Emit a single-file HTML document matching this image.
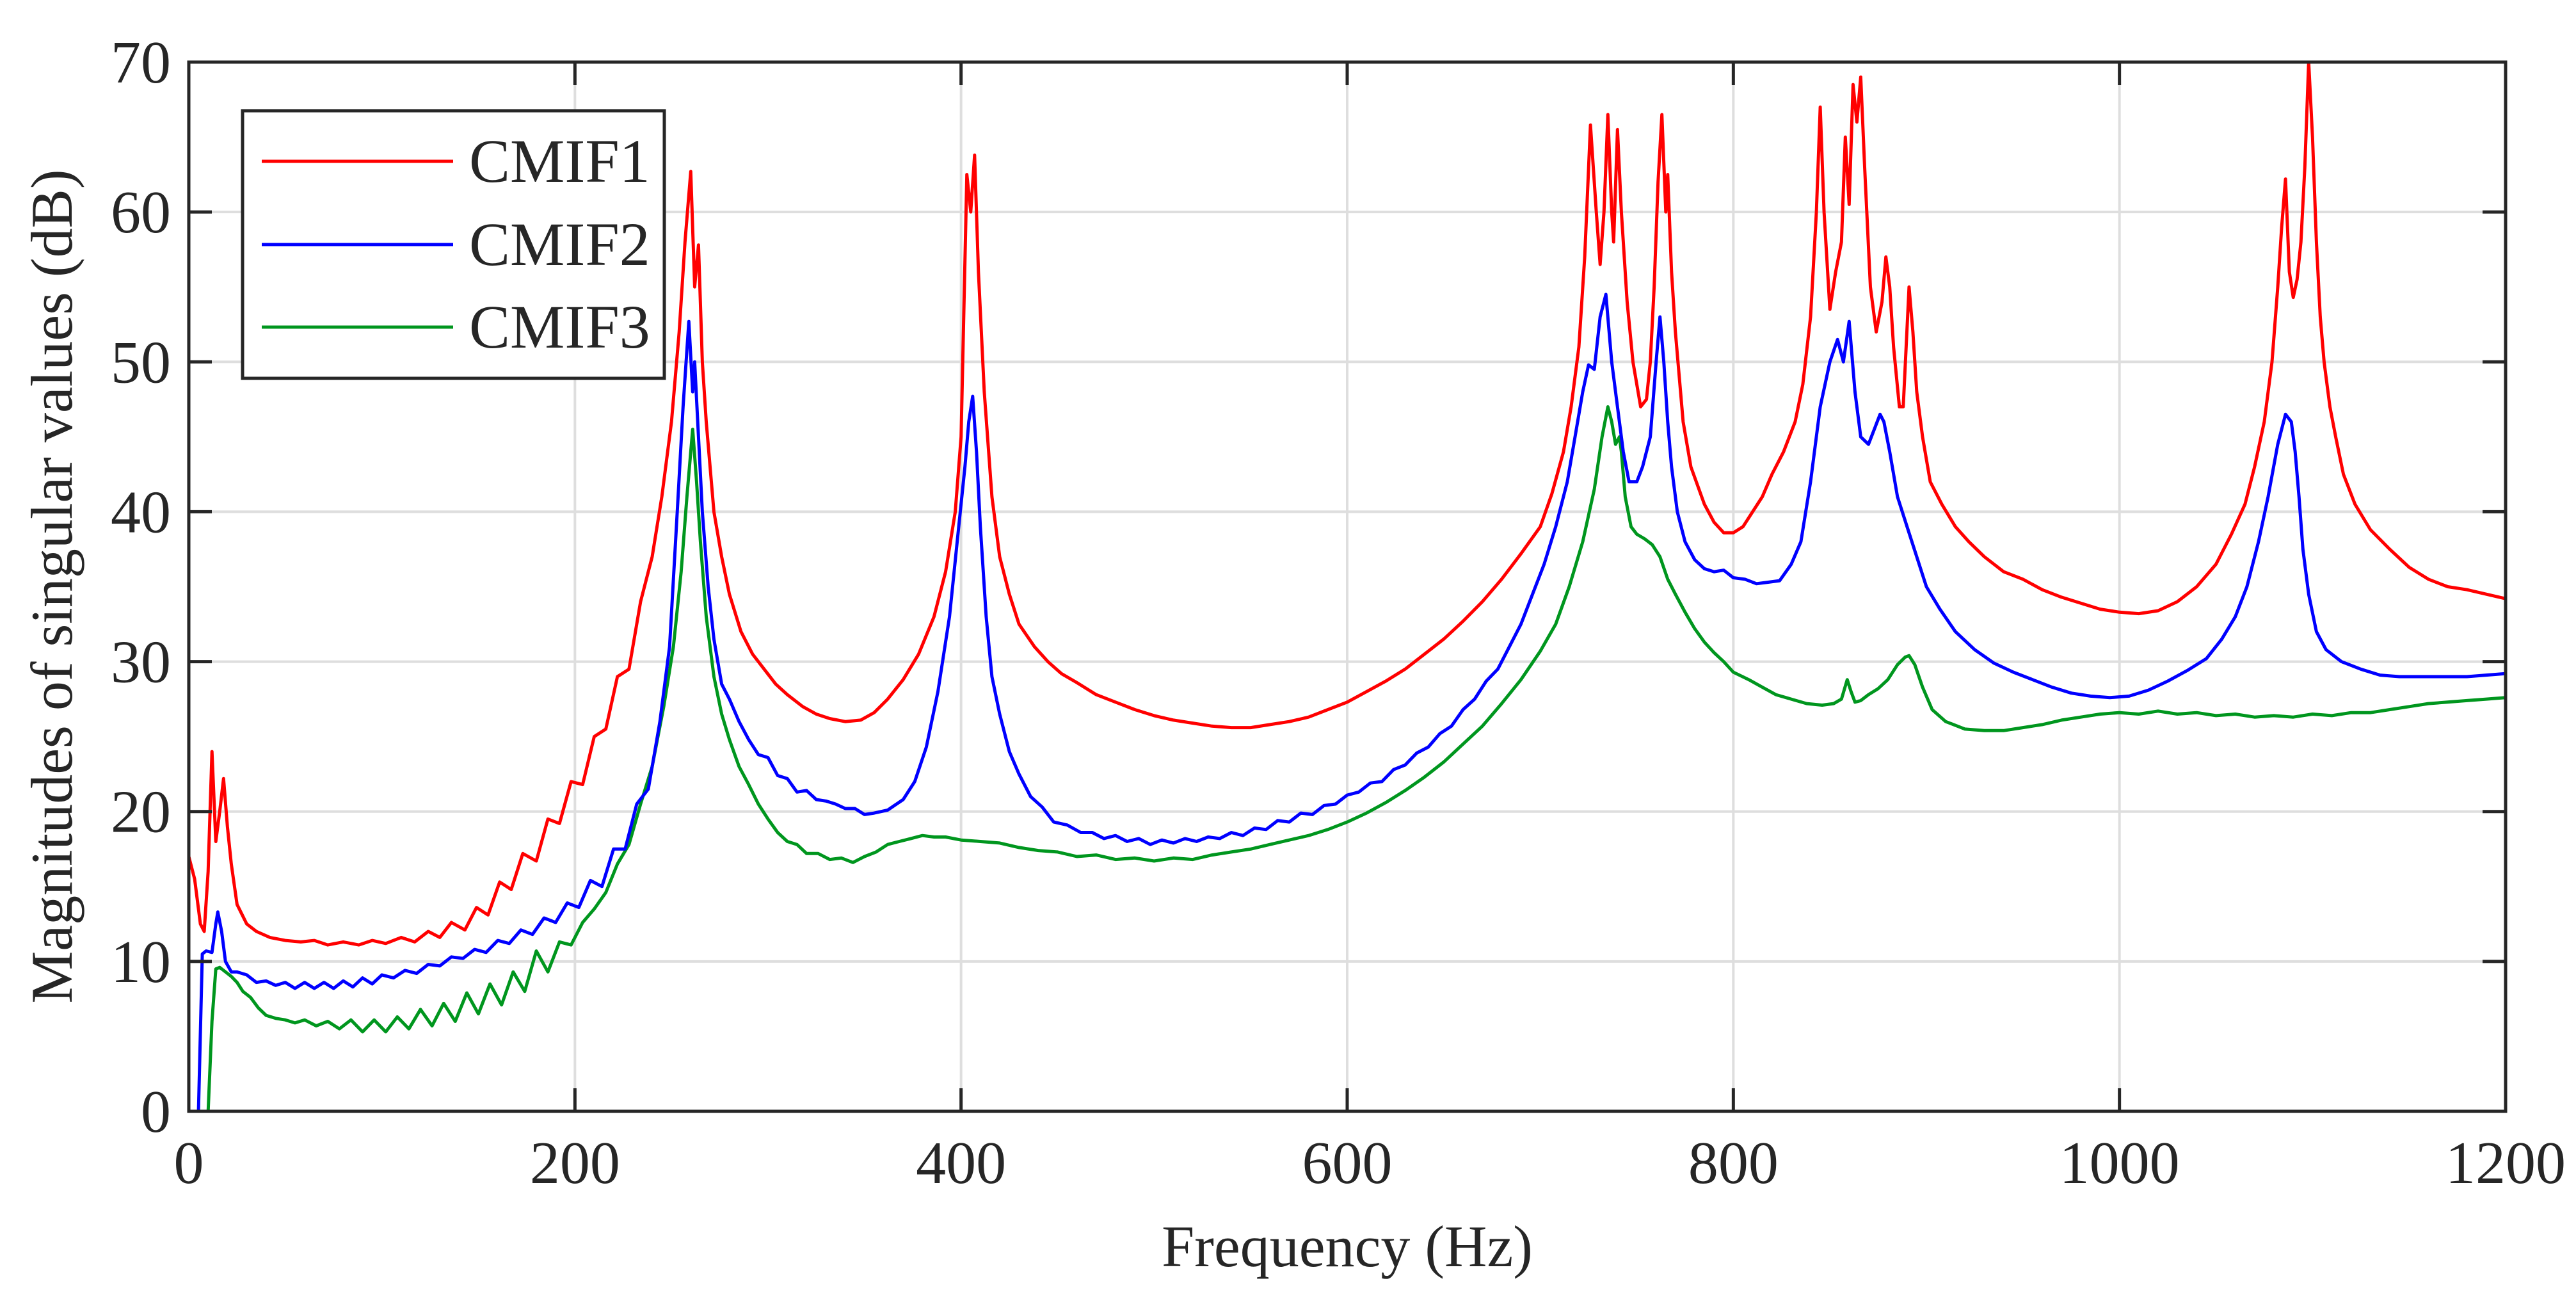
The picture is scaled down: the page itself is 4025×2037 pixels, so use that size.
<!DOCTYPE html>
<html><head><meta charset="utf-8">
<style>
html,body{margin:0;padding:0;background:#fff;}
svg{display:block;}
text{font-family:"Liberation Serif",serif;fill:#262626;}
</style></head>
<body>
<svg id="chart" width="4025" height="2037" viewBox="0 0 4025 2037" xmlns="http://www.w3.org/2000/svg">
<defs><clipPath id="plotclip"><rect x="295" y="97" width="3620" height="1639"/></clipPath></defs>
<rect x="0" y="0" width="4025" height="2037" fill="#fff"/>
<g id="grid"></g>
<g id="series" clip-path="url(#plotclip)"></g>
<rect x="295" y="97" width="3620" height="1639" fill="none" stroke="#262626" stroke-width="5"/>
<g id="ticks"></g>
<text x="2105" y="1978" font-size="92" text-anchor="middle">Frequency (Hz)</text>
<text transform="translate(112,916) rotate(-90)" font-size="92" text-anchor="middle">Magnitudes of singular values (dB)</text>
<g>
<rect x="379" y="173" width="659" height="418" fill="#fff" stroke="#262626" stroke-width="5"/>
<line x1="409" y1="252" x2="708" y2="252" stroke="#ff0000" stroke-width="5"/>
<text x="733" y="284" font-size="96">CMIF1</text>
<line x1="409" y1="382" x2="708" y2="382" stroke="#0000ff" stroke-width="5"/>
<text x="733" y="414" font-size="96">CMIF2</text>
<line x1="409" y1="511" x2="708" y2="511" stroke="#00961e" stroke-width="5"/>
<text x="733" y="543" font-size="96">CMIF3</text>
</g>
</svg>
<script>
const xTicks = [0,200,400,600,800,1000,1200];
const yTicks = [0,10,20,30,40,50,60,70];
const cmif1F = [0,3,6,8,10,12,14,16,18,20,
22,25,30,35,42,50,58,65,72,80,
88,95,102,110,117,124,130,136,143,149,
155,161,167,173,180,186,192,198,204,210,
216,222,228,234,240,245,250,254,257,260,
262,264,266,268,272,276,280,286,292,298,
304,310,318,325,332,340,348,355,362,370,
378,386,392,397,400,403,405,407,409,412,
416,420,425,430,438,445,452,460,470,480,
490,500,510,520,530,540,550,560,570,580,
590,600,610,620,630,640,650,660,670,680,
690,700,706,712,716,720,723,726,729,731,
733,735,737,738,740,742,745,748,752,755,
757,759,761,763,765,766,768,770,774,778,
785,790,795,800,805,810,815,820,826,832,
836,840,843,845,847,850,853,856,858,860,
862,864,866,868,871,874,877,879,881,883,
886,888,891,893,895,898,902,908,915,922,
930,940,950,960,970,980,990,1000,1010,1020,
1030,1040,1050,1058,1065,1070,1075,1079,1082,1084,
1086,1088,1090,1092,1094,1096,1098,1100,1102,1104,
1106,1109,1112,1116,1122,1130,1140,1150,1160,1170,
1180,1190,1200];
const cmif1V = [17,15.5,12.5,12,16,24,18,20,22.2,19,
16.5,13.8,12.5,12,11.6,11.4,11.3,11.4,11.1,11.3,
11.1,11.4,11.2,11.6,11.3,12,11.6,12.6,12.1,13.6,
13.1,15.3,14.8,17.2,16.7,19.5,19.2,22,21.8,25,
25.5,29,29.5,34,37,41,46,52,58,62.7,
55,57.8,50,46,40,37,34.5,32,30.5,29.5,
28.5,27.8,27,26.5,26.2,26,26.1,26.6,27.5,28.8,
30.5,33,36,40,45,62.5,60,63.8,56,48,
41,37,34.5,32.5,31,30,29.2,28.6,27.8,27.3,
26.8,26.4,26.1,25.9,25.7,25.6,25.6,25.8,26,26.3,
26.8,27.3,28,28.7,29.5,30.5,31.5,32.7,34,35.5,
37.2,39,41.2,44,47,51,57,65.8,60,56.5,
60,66.5,60,58,65.5,60,54,50,47,47.5,
50,55,62,66.5,60,62.5,56,52,46,43,
40.5,39.3,38.6,38.6,39,40,41,42.5,44,46,
48.5,53,60,67,60,53.5,56,58,65,60.5,
68.5,66,69,63,55,52,54,57,55,51,
47,47,55,52,48,45,42,40.5,39,38,
37,36,35.5,34.8,34.3,33.9,33.5,33.3,33.2,33.4,
34,35,36.5,38.5,40.5,43,46,50,55,59,
62.2,56,54.3,55.5,58,63,70,65,58,53,
50,47,45,42.5,40.5,38.8,37.5,36.3,35.5,35,
34.8,34.5,34.2];
const cmif2F = [0,3,5,7,9,12,14,15,17,19,
22,25,30,35,40,45,50,55,60,65,
70,75,80,85,90,95,100,106,112,118,
124,130,136,142,148,154,160,166,172,178,
184,190,196,202,208,214,220,226,232,238,
244,249,253,256,259,261,262,264,266,269,
272,276,280,285,290,295,300,305,310,315,
320,325,330,335,340,345,350,355,362,370,
376,382,388,394,398,402,404,406,408,410,
413,416,420,425,430,436,442,448,455,462,
468,474,480,486,492,498,504,510,516,522,
528,534,540,546,552,558,564,570,576,582,
588,594,600,606,612,618,624,630,636,642,
648,654,660,666,672,678,684,690,696,702,
708,714,718,722,725,728,731,734,737,740,
743,746,750,753,757,760,762,764,766,768,
771,775,780,785,790,795,800,806,812,818,
824,830,835,840,845,850,854,857,860,863,
866,870,873,876,878,881,885,890,895,900,
907,915,925,935,945,955,965,975,985,995,
1005,1015,1025,1035,1045,1053,1060,1066,1072,1077,
1082,1086,1089,1091,1093,1095,1098,1102,1107,1115,
1125,1135,1145,1160,1180,1200];
const cmif2V = [-5,-5,0,10.5,10.7,10.6,12.5,13.3,12,10,
9.3,9.3,9.1,8.6,8.7,8.4,8.6,8.2,8.6,8.2,
8.6,8.2,8.7,8.3,8.9,8.5,9.1,8.9,9.4,9.2,
9.8,9.7,10.3,10.2,10.8,10.6,11.4,11.2,12.1,11.8,
12.9,12.6,13.9,13.6,15.4,15,17.5,17.5,20.5,21.5,
26,31,40,47,52.7,48,50,45,40,35,
31.5,28.5,27.5,26,24.8,23.8,23.6,22.4,22.2,21.3,
21.4,20.8,20.7,20.5,20.2,20.2,19.8,19.9,20.1,20.8,
22,24.3,28,33,38,43,46,47.7,44,39,
33,29,26.5,24,22.5,21,20.3,19.3,19.1,18.6,
18.6,18.2,18.4,18,18.2,17.8,18.1,17.9,18.2,18,
18.3,18.2,18.6,18.4,18.9,18.8,19.4,19.3,19.9,19.8,
20.4,20.5,21.1,21.3,21.9,22,22.8,23.1,23.9,24.3,
25.2,25.7,26.8,27.5,28.7,29.5,31,32.5,34.5,36.5,
39,42,45,48,49.8,49.5,53,54.5,50,47,
44,42,42,43,45,50,53,50,46,43,
40,38,36.8,36.2,36,36.1,35.6,35.5,35.2,35.3,
35.4,36.5,38,42,47,50,51.5,50,52.7,48,
45,44.5,45.5,46.5,46,44,41,39,37,35,
33.5,32,30.8,29.9,29.3,28.8,28.3,27.9,27.7,27.6,
27.7,28.1,28.7,29.4,30.2,31.5,33,35,38,41,
44.5,46.5,46,44,41,37.5,34.5,32,30.8,30,
29.5,29.1,29,29,29,29.2];
const cmif3F = [0,8,10,12,14,16,19,22,25,28,
32,36,40,45,50,55,60,66,72,78,
84,90,96,102,108,114,120,126,132,138,
144,150,156,162,168,174,180,186,192,198,
204,210,216,222,228,234,240,246,251,255,
258,261,263,265,268,272,276,280,285,290,
295,300,305,310,315,320,326,332,338,344,
350,356,362,368,374,380,386,392,400,410,
420,430,440,450,460,470,480,490,500,510,
520,530,540,550,560,570,580,590,600,610,
620,630,640,650,660,670,680,690,700,708,
715,722,728,732,735,737,739,741,742,744,
747,750,754,758,762,766,770,775,780,785,
790,795,800,808,815,822,830,838,846,852,
856,859,861,863,866,870,875,880,885,889,
891,894,898,903,910,920,930,940,950,960,
970,980,990,1000,1010,1020,1030,1040,1050,1060,
1070,1080,1090,1100,1110,1120,1130,1140,1150,1160,
1170,1180,1190,1200];
const cmif3V = [-5,-5,0,6,9.5,9.6,9.3,9,8.6,8,
7.6,6.9,6.4,6.2,6.1,5.9,6.1,5.7,6,5.5,
6.1,5.3,6.1,5.3,6.3,5.5,6.8,5.7,7.2,6,
7.9,6.5,8.5,7.1,9.3,8,10.7,9.3,11.3,11.1,
12.6,13.5,14.6,16.5,17.8,20.5,23,27,31,36,
41,45.5,42,38,33,29,26.5,24.8,23,21.8,
20.5,19.5,18.6,18,17.8,17.2,17.2,16.8,16.9,16.6,
17,17.3,17.8,18,18.2,18.4,18.3,18.3,18.1,18,
17.9,17.6,17.4,17.3,17,17.1,16.8,16.9,16.7,16.9,
16.8,17.1,17.3,17.5,17.8,18.1,18.4,18.8,19.3,19.9,
20.6,21.4,22.3,23.3,24.5,25.7,27.2,28.8,30.7,32.5,
35,38,41.5,45,47,46,44.5,45,44,41,
39,38.5,38.2,37.8,37,35.5,34.5,33.3,32.2,31.3,
30.6,30,29.3,28.8,28.3,27.8,27.5,27.2,27.1,27.2,
27.5,28.8,28,27.3,27.4,27.8,28.2,28.8,29.8,30.3,
30.4,29.8,28.3,26.8,26,25.5,25.4,25.4,25.6,25.8,
26.1,26.3,26.5,26.6,26.5,26.7,26.5,26.6,26.4,26.5,
26.3,26.4,26.3,26.5,26.4,26.6,26.6,26.8,27,27.2,
27.3,27.4,27.5,27.6];

const NS = "http://www.w3.org/2000/svg";
const L=295,R=3915,T=97,B=1736;
function xs(f){return L+(f-0)/(1200-0)*(R-L);}
function ys(v){return B-(v-0)/(70-0)*(B-T);}
const grid=document.getElementById('grid');
const ticks=document.getElementById('ticks');
const series=document.getElementById('series');
function mk(tag,attrs,parent){const e=document.createElementNS(NS,tag);for(const k in attrs)e.setAttribute(k,attrs[k]);parent.appendChild(e);return e;}
xTicks.forEach(t=>{
  const x=xs(t);
  if(t>0&&t<1200){
    const g=mk('line',{x1:x,y1:T,x2:x,y2:B,stroke:'#dedede','stroke-width':4},grid);
    
    
  }
  const a=mk('line',{x1:x,y1:B,x2:x,y2:B-36,stroke:'#262626','stroke-width':5},ticks);
  
  
  const b=mk('line',{x1:x,y1:T,x2:x,y2:T+36,stroke:'#262626','stroke-width':5},ticks);
  
  
  const tx=mk('text',{x:x,y:1848,'font-size':94,'text-anchor':'middle'},ticks);
  tx.textContent=t;
  
  
});
yTicks.forEach(t=>{
  const y=ys(t);
  if(t>0&&t<70){
    const g=mk('line',{x1:L,y1:y,x2:R,y2:y,stroke:'#dedede','stroke-width':4},grid);
    
    
  }
  const a=mk('line',{x1:L,y1:y,x2:L+36,y2:y,stroke:'#262626','stroke-width':5},ticks);
  
  
  const b=mk('line',{x1:R,y1:y,x2:R-36,y2:y,stroke:'#262626','stroke-width':5},ticks);
  
  
  const tx=mk('text',{x:267,y:y+32,'font-size':94,'text-anchor':'end'},ticks);
  tx.textContent=t;
  
  
});
function line(F,V,color,name){
  let d='';
  const n=Math.min(F.length,V.length);
  for(let i=0;i<n;i++){d+=(i?'L':'M')+xs(F[i]).toFixed(1)+' '+ys(V[i]).toFixed(1);}
  const p=mk('path',{d:d,fill:'none',stroke:color,'stroke-width':5,'stroke-linejoin':'round'},series);
  
  
}
line(cmif3F,cmif3V,'#00961e','cmif3-line');
line(cmif2F,cmif2V,'#0000ff','cmif2-line');
line(cmif1F,cmif1V,'#ff0000','cmif1-line');
</script>
</body></html>
